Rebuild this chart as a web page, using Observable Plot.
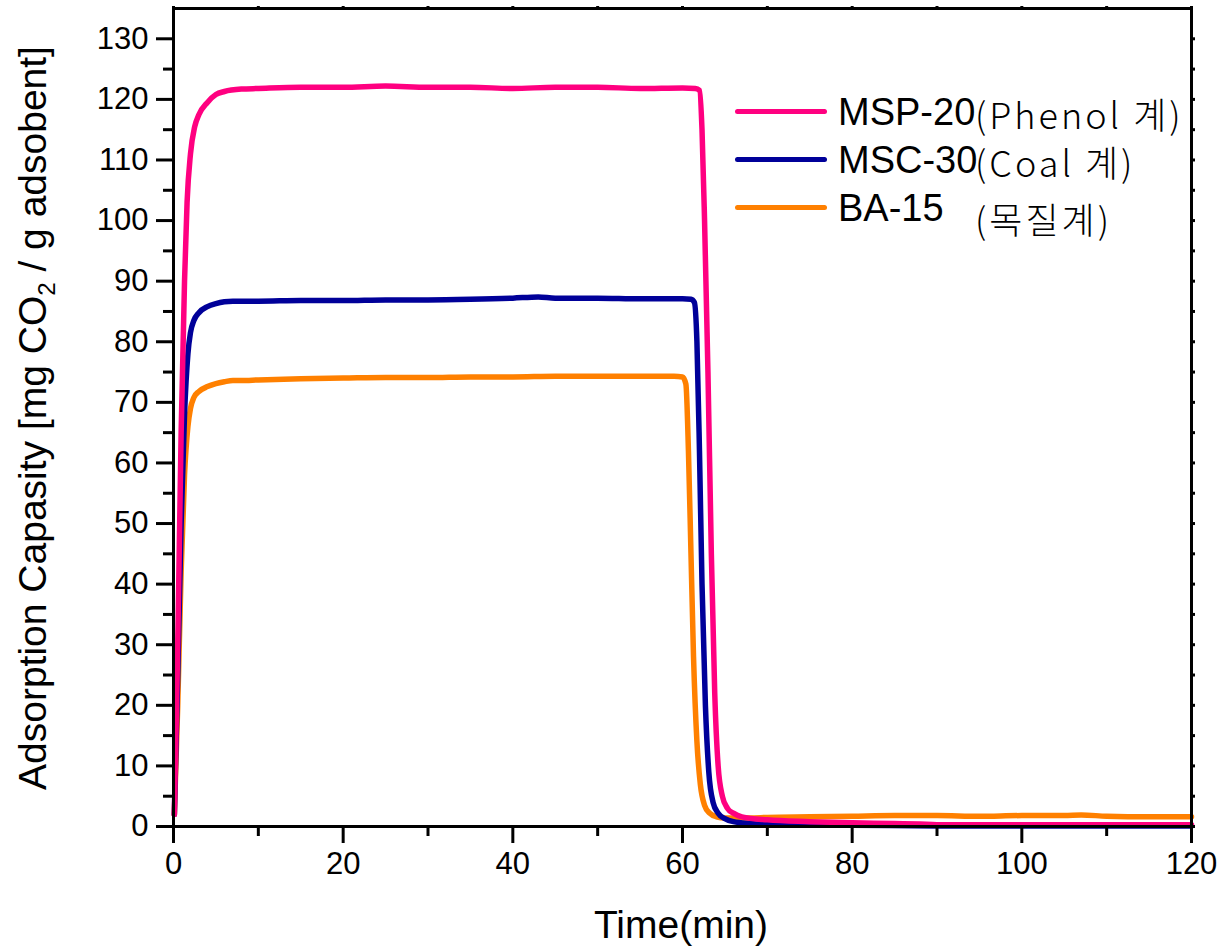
<!DOCTYPE html>
<html><head><meta charset="utf-8">
<script src="https://cdn.jsdelivr.net/npm/d3@7"></script>
<script src="https://cdn.jsdelivr.net/npm/@observablehq/plot@0.6"></script>
<style>
body{margin:0;background:#fff;}
#wrap{position:relative;width:1219px;height:948px;}
.row{position:absolute;left:0;height:48px;width:480px;}
.sw{position:absolute;left:735px;width:92px;height:5px;border-radius:3px;}
.nm{position:absolute;left:838px;font-family:"Liberation Sans",Arial,sans-serif;font-size:38px;line-height:48px;color:#000;white-space:nowrap;}
.kr{position:absolute;left:975px;font-family:"Noto Sans CJK KR",sans-serif;font-weight:300;font-size:36px;letter-spacing:3px;line-height:48px;color:#000;white-space:nowrap;}
</style></head><body><div id="wrap"></div>
<script>
const seriesNames = ["MSP-20", "MSC-30", "BA-15"];
const seriesNotes = ["(Phenol 계)", "(Coal 계)", "(목질계)"];
const seriesColors = ["#FF0080", "#000099", "#FF8000"];

const mspTime = [0.1,0.5,0.9,1.3,1.6,2.0,2.5,3,4,5,6,8,10,15,20,25,30,35,40,45,50,55,60,61.5,62,62.3,62.6,63,63.4,63.8,64.2,64.7,65.3,66,67,70,75,80,85,88,90,100,110,120];
const mspValue = [2,30,65,90,103,111,115.5,117.5,119.5,120.8,121.3,121.7,121.8,122,122,122.2,122,122,121.8,122,122,121.8,121.9,121.8,121.5,115,100,75,45,22,10,5,3,2.2,1.6,1.1,0.8,0.6,0.5,0.4,0.3,0.3,0.3,0.3];

const mscTime = [0.1,0.5,0.9,1.3,1.7,2.0,2.4,3,4,5,6,7,10,15,20,25,30,35,40,43,45,50,55,60,61,61.4,61.7,62,62.3,62.7,63.1,63.6,64.2,65,66,68,70,75,80,90,100,110,120];
const mscValue = [2,25,50,68,78,81.5,83.5,84.8,85.8,86.3,86.6,86.7,86.7,86.8,86.8,86.9,86.9,87,87.2,87.4,87.2,87.2,87.1,87.1,87,86.5,80,62,40,20,9,4,2.2,1.3,0.8,0.5,0.35,0.25,0.2,0.1,0.1,0.1,0.1];

const baTime = [0.1,0.5,0.9,1.3,1.7,2.0,2.4,3,4,5,6,7,8,10,15,20,25,30,35,40,45,50,55,59,60,60.4,60.7,61,61.3,61.7,62.1,62.6,63.2,64,65,66,68,70,75,80,85,90,95,100,105,107,110,115,120];
const baValue = [2,20,42,58,66,69,70.8,71.8,72.6,73.1,73.4,73.6,73.6,73.7,73.9,74,74.1,74.1,74.2,74.2,74.3,74.3,74.3,74.3,74.2,73,62,45,28,14,7,3.5,2.2,1.6,1.4,1.4,1.4,1.5,1.6,1.7,1.8,1.8,1.7,1.8,1.8,1.9,1.7,1.6,1.6];

const xTicks = [0,20,40,60,80,100,120];
const xMinorTicks = [10,30,50,70,90,110];
const yTicks = [0,10,20,30,40,50,60,70,80,90,100,110,120,130];
const yMinorTicks = [5,15,25,35,45,55,65,75,85,95,105,115,125];

const times = [mspTime, mscTime, baTime];
const values = [mspValue, mscValue, baValue];
// draw order: BA-15, MSC-30, MSP-20 on top
const rows = [];
[2,1,0].forEach(i => times[i].forEach((t, j) => rows.push({series: seriesNames[i], t, v: values[i][j]})));

const font = '"Liberation Sans", Arial, sans-serif';
const blank = () => "";
const plot = Plot.plot({
  width: 1219, height: 948,
  marginLeft: 173, marginRight: 28, marginTop: 8, marginBottom: 122,
  x: {domain: [0, 120]},
  y: {domain: [0, 135]},
  color: {domain: seriesNames, range: seriesColors},
  style: {fontFamily: font, fontSize: "31px", color: "#000", background: "#fff", overflow: "visible"},
  marks: [
    Plot.line(rows, {x: "t", y: "v", z: "series", stroke: "series", strokeWidth: 5.5, curve: "monotone-x", strokeLinejoin: "round", strokeLinecap: "round"}),
    Plot.frame({stroke: "#000", strokeWidth: 3}),
    Plot.axisX({ticks: xTicks, tickSize: 17, strokeWidth: 3, tickPadding: 8, label: null, fontSize: 31}),
    Plot.axisX({ticks: xMinorTicks, tickSize: 10, strokeWidth: 3, tickFormat: blank, label: null}),
    Plot.axisY({ticks: yTicks, tickSize: 17, strokeWidth: 3, tickPadding: 8, label: null, fontSize: 31}),
    Plot.axisY({ticks: yMinorTicks, tickSize: 10, strokeWidth: 3, tickFormat: blank, label: null}),
    Plot.axisX({anchor: "top", ticks: xTicks.concat(xMinorTicks), tickSize: 3, strokeWidth: 3, tickFormat: blank, label: null}),
    Plot.axisY({anchor: "right", ticks: yTicks.concat(yMinorTicks), tickSize: 3, strokeWidth: 3, tickFormat: blank, label: null})
  ]
});

const svg = d3.select(plot);
const yt = svg.append("text")
  .attr("transform", "translate(46,418) rotate(-90)")
  .attr("text-anchor", "middle")
  .attr("font-family", font).attr("font-size", 39).attr("fill", "#000");
yt.append("tspan").text("Adsorption Capasity [mg CO");
yt.append("tspan").attr("font-size", 24).attr("dy", 9).text("2");
yt.append("tspan").attr("dy", -9).text(" / g adsobent]");
svg.append("text")
  .attr("x", 681).attr("y", 938)
  .attr("text-anchor", "middle")
  .attr("font-family", font).attr("font-size", 39).attr("fill", "#000")
  .text("Time(min)");

const wrap = document.getElementById("wrap");
wrap.appendChild(plot);

const rowTops = [88, 136, 184];
seriesNames.forEach((name, i) => {
  const r = document.createElement("div");
  r.className = "row";
  r.style.top = rowTops[i] + "px";
  r.style.width = "1219px";
  const sw = document.createElement("div");
  sw.className = "sw"; sw.style.top = "21px"; sw.style.background = seriesColors[i];
  const nm = document.createElement("div");
  nm.className = "nm"; nm.style.top = "0px"; nm.textContent = name;
  const kr = document.createElement("div");
  kr.className = "kr"; kr.style.top = (i === 2 ? 10 : 1) + "px"; kr.textContent = seriesNotes[i];
  r.append(sw, nm, kr);
  wrap.appendChild(r);
});
</script>
</body></html>
